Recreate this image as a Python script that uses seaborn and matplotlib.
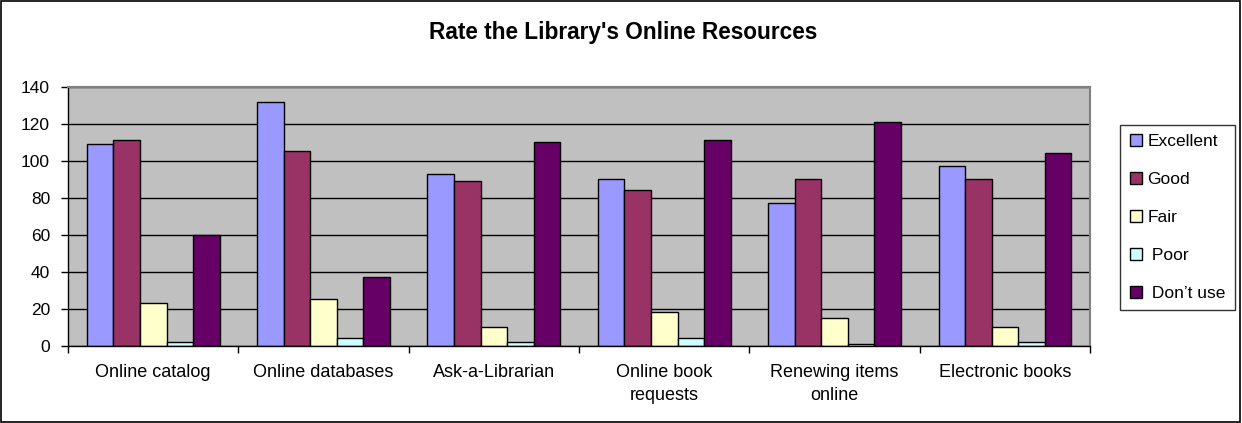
import numpy as np
import pandas as pd
import matplotlib
matplotlib.use('Agg')
import matplotlib.pyplot as plt
import matplotlib.patches as mpatches
import seaborn as sns

# dados
resources = ['Online catalog', 'Online databases', 'Ask-a-Librarian',
             'Online book\nrequests', 'Renewing items\nonline', 'Electronic books']
ratings = ['Excellent', 'Good', 'Fair', ' Poor', ' Don\u2019t use']
excellent = [109, 132, 93, 90, 77, 97]
good = [111, 105, 89, 84, 90, 90]
fair = [23, 25, 10, 18, 15, 10]
poor = [2, 4, 2, 4, 1, 2]
dont_use = [60, 37, 110, 111, 121, 104]
colors = ['#9999FF', '#993366', '#FFFFCC', '#CCFFFF', '#660066']

df = pd.DataFrame({'Resource': resources, ratings[0]: excellent, ratings[1]: good,
                   ratings[2]: fair, ratings[3]: poor, ratings[4]: dont_use})
df = df.melt(id_vars='Resource', value_vars=ratings, var_name='Rating', value_name='Count')

sns.set_style('white')
plt.rcParams['font.family'] = ['Liberation Sans', 'DejaVu Sans']
plt.rcParams['text.color'] = 'black'
plt.rcParams['xtick.labelcolor'] = 'black'
plt.rcParams['ytick.labelcolor'] = 'black'

fig = plt.figure(figsize=(12.42, 4.23), dpi=100)
ax = fig.add_axes([0.0548, 0.1827, 0.8229, 0.6123])
ax.set_facecolor('#C0C0C0')

sns.barplot(data=df, x='Resource', y='Count', hue='Rating', palette=colors,
            order=resources, hue_order=ratings, width=0.78,
            edgecolor='black', linewidth=1, saturation=1, ax=ax, legend=False)

ax.set_ylim(0, 140)
ax.set_yticks(np.arange(0, 141, 20))
ax.set_xlim(-0.5, len(resources) - 0.5)
ax.yaxis.grid(True, color='black', linewidth=1)
ax.set_axisbelow(True)
ax.set_xlabel('')
ax.set_ylabel('')

# ticks estilo Excel
ax.tick_params(axis='y', which='major', direction='out', length=5, width=1,
               color='black', labelcolor='black', labelsize=12.5, left=True, pad=8)
ax.tick_params(axis='x', which='major', length=0, labelsize=13, labelcolor='black', pad=13)
for lbl in ax.get_xticklabels():
    lbl.set_linespacing(1.45)
ax.set_xticks(np.arange(-0.5, len(resources), 1), minor=True)
ax.tick_params(axis='x', which='minor', direction='out', length=5, width=1,
               color='black', bottom=True)

for side in ['left', 'bottom']:
    ax.spines[side].set_color('black')
    ax.spines[side].set_linewidth(1)
for side in ['top', 'right']:
    ax.spines[side].set_color('#808080')
    ax.spines[side].set_linewidth(1.5)
    ax.spines[side].set_visible(True)

# titulo
fig.text(0.502, 0.924, "Rate the Library's Online Resources", ha='center',
         va='center', fontsize=16.3, fontweight='bold', color='black')

# legenda
handles = [mpatches.Patch(facecolor=c, edgecolor='black', linewidth=1, label=l)
           for c, l in zip(colors, ratings)]
leg = fig.legend(handles=handles, loc='center left', bbox_to_anchor=(0.902, 0.486),
                 frameon=True, fancybox=False, fontsize=12.5, labelspacing=1.31,
                 handlelength=0.7, handleheight=0.7, handletextpad=0.3,
                 borderpad=0.55, borderaxespad=0, labelcolor='black')
leg.get_frame().set_edgecolor('black')
leg.get_frame().set_linewidth(1)

# borda externa
fig.patches.append(mpatches.Rectangle((0.001, 0.002), 0.997, 0.995, transform=fig.transFigure,
                                      fill=False, edgecolor='black', linewidth=1.2))

plt.savefig('out.png', dpi=100)
plt.close()
